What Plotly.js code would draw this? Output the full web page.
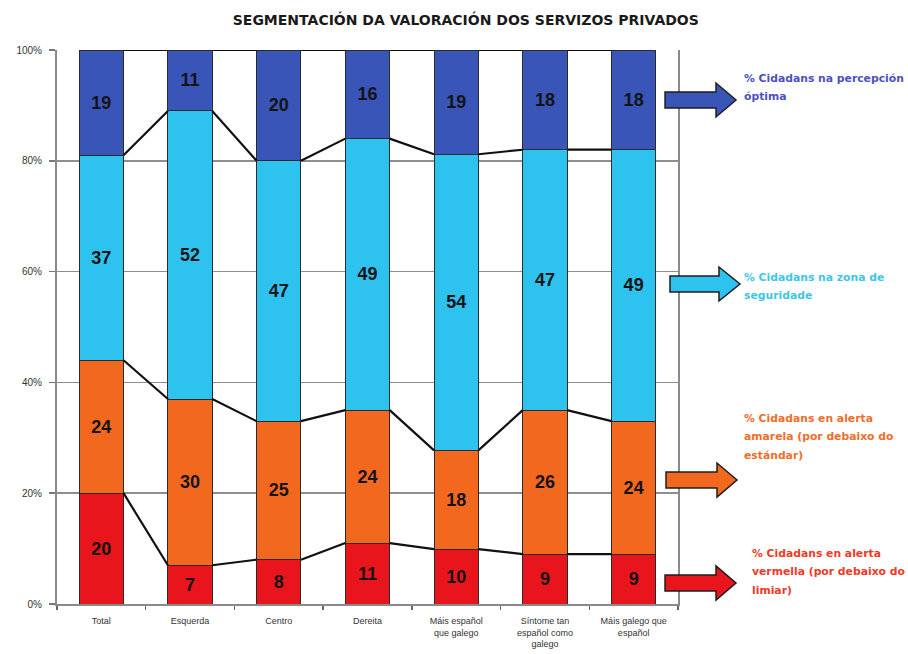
<!DOCTYPE html>
<html><head><meta charset="utf-8">
<script src="https://cdn.plot.ly/plotly-3.0.1.min.js"></script>
<style>html,body{margin:0;padding:0;background:#fff}#chart{width:908px;height:654px}</style>
</head><body><div id="chart"></div>
<script>
// ---- data ----
const categories = ["Total", "Esquerda", "Centro", "Dereita", "Máis español<br>que galego", "Síntome tan<br>español como<br>galego", "Máis galego que<br>español"];
const vermella   = [20, 7, 8, 11, 10, 9, 9];
const amarela    = [24, 30, 25, 24, 18, 26, 24];
const seguridade = [37, 52, 47, 49, 54, 47, 49];
const optima     = [19, 11, 20, 16, 19, 18, 18];
const seriesNames = [
  "% Cidadans en alerta vermella (por debaixo do limiar)",
  "% Cidadans en alerta amarela (por debaixo do estándar)",
  "% Cidadans na zona de seguridade",
  "% Cidadans na percepción óptima"
];
const legendLines = [
  ["% Cidadans en alerta", "vermella (por debaixo do", "limiar)"],
  ["% Cidadans en alerta", "amarela (por debaixo do", "estándar)"],
  ["% Cidadans na zona de", "seguridade"],
  ["% Cidadans na percepción", "óptima"]
];
const yTickVals = [0, 20, 40, 60, 80, 100];
const yTickText = ["0%", "20%", "40%", "60%", "80%", "100%"];
const titleText = "SEGMENTACIÓN DA VALORACIÓN DOS SERVIZOS PRIVADOS";

// ---- style ----
const fillColors = ["#e8161c", "#f2681e", "#2ec2ee", "#3a55b8"];
const legendColors = ["#ee3a26", "#f06e2a", "#3ec6e6", "#4b50c2"];
const BAR_W = 0.5;

const series = [vermella, amarela, seguridade, optima];
const idx = categories.map((_, i) => i);
const totals = idx.map(i => series.reduce((s, arr) => s + arr[i], 0));

const traces = series.map((vals, k) => ({
  type: "bar",
  name: seriesNames[k],
  x: idx,
  y: vals,
  width: BAR_W,
  marker: { color: fillColors[k], line: { color: "#2a2a2a", width: 1 } },
  text: vals.map(v => "<b>" + v + "</b>"),
  textposition: "inside",
  insidetextanchor: "middle",
  constraintext: "none",
  textfont: { family: "Liberation Sans, Arial, sans-serif", size: 18, color: "#141414" },
  hoverinfo: "name+y",
  showlegend: false
}));

// series lines joining the stacked boundaries between neighbouring bars
for (let k = 0; k < series.length; k++) {
  const cum = idx.map(i => {
    let s = 0;
    for (let j = 0; j <= k; j++) s += series[j][i];
    return s / totals[i] * 100;
  });
  const xs = [], ys = [];
  for (let i = 0; i < idx.length - 1; i++) {
    xs.push(idx[i] + BAR_W / 2, idx[i + 1] - BAR_W / 2, null);
    ys.push(cum[i], cum[i + 1], null);
  }
  traces.push({
    type: "scatter", mode: "lines", x: xs, y: ys,
    line: { color: "#111", width: 2.2 },
    hoverinfo: "skip", showlegend: false
  });
}

// ---- pixel helpers for the annotations outside the plot ----
const L = 57, R = 678, T = 50, B = 604;
const px = p => (p - L) / (R - L);
const py = p => (B - p) / (B - T);

function arrowPath(x0, xh, x1, yc, bh, hh) {
  const pts = [[x0, yc - bh], [xh, yc - bh], [xh, yc - hh], [x1, yc], [xh, yc + hh], [xh, yc + bh], [x0, yc + bh]];
  return "M" + pts.map(p => px(p[0]).toFixed(4) + "," + py(p[1]).toFixed(4)).join(" L") + " Z";
}
// arrows: [left, head-start, tip, centreY]
const arrowGeom = [[665, 716, 736, 583], [666, 717, 737, 480], [670, 719, 740, 284], [665, 716, 736, 100]];
// legend text: [left x, first line centre y]
const textGeom = [[750, 553], [742, 418], [742, 277], [742, 78]];
const LINE_H = 18.5;

const shapes = arrowGeom.map((g, k) => ({
  type: "path", xref: "paper", yref: "paper", layer: "above",
  path: arrowPath(g[0], g[1], g[2], g[3], 8, 17),
  fillcolor: fillColors[k], line: { color: "#1e1e1e", width: 1.5 }
}));

const annotations = [];
legendLines.forEach((lines, k) => {
  lines.forEach((t, j) => {
    annotations.push({
      xref: "paper", yref: "paper",
      x: px(textGeom[k][0]), y: py(textGeom[k][1] + j * LINE_H),
      xanchor: "left", yanchor: "middle", align: "left", showarrow: false,
      text: "<b>" + t + "</b>",
      font: { family: "DejaVu Sans, Verdana, sans-serif", size: 10.8, color: legendColors[k] }
    });
  });
});

const layout = {
  width: 908, height: 654,
  paper_bgcolor: "#fff", plot_bgcolor: "#fff",
  margin: { l: L, r: 908 - R, t: T, b: 654 - B },
  barmode: "stack", barnorm: "percent",
  title: {
    text: "<b>" + titleText + "</b>",
    xref: "container", yref: "container", x: 0.513, y: 1 - 20 / 654,
    xanchor: "center", yanchor: "middle",
    font: { family: "DejaVu Sans, Verdana, sans-serif", size: 14, color: "#1a1a1a" }
  },
  xaxis: {
    range: [-0.5, 6.5], tickmode: "array", tickvals: idx, ticktext: categories,
    ticks: "", showgrid: false, zeroline: false,
    showline: true, linecolor: "#8a8a8a", linewidth: 2,
    ticklabelstandoff: 7,
    tickfont: { family: "Liberation Sans, Arial, sans-serif", size: 9, color: "#333" },
    minor: { tickmode: "array", tickvals: [-0.5, 0.5, 1.5, 2.5, 3.5, 4.5, 5.5, 6.5], ticks: "outside", ticklen: 4, tickcolor: "#666", tickwidth: 1.5, showgrid: false },
    fixedrange: true
  },
  yaxis: {
    range: [0, 100], tickmode: "array", tickvals: yTickVals, ticktext: yTickText,
    ticks: "outside", ticklen: 6, tickcolor: "#777", tickwidth: 1.5,
    showline: true, mirror: true, linecolor: "#8a8a8a", linewidth: 2,
    showgrid: true, gridcolor: "#8e8e8e", gridwidth: 1.5, zeroline: false,
    ticklabelstandoff: 5,
    tickfont: { family: "Liberation Sans, Arial, sans-serif", size: 10, color: "#333" },
    fixedrange: true
  },
  shapes: shapes,
  annotations: annotations
};

Plotly.newPlot("chart", traces, layout, { displayModeBar: false, staticPlot: true });
</script>
</body></html>
